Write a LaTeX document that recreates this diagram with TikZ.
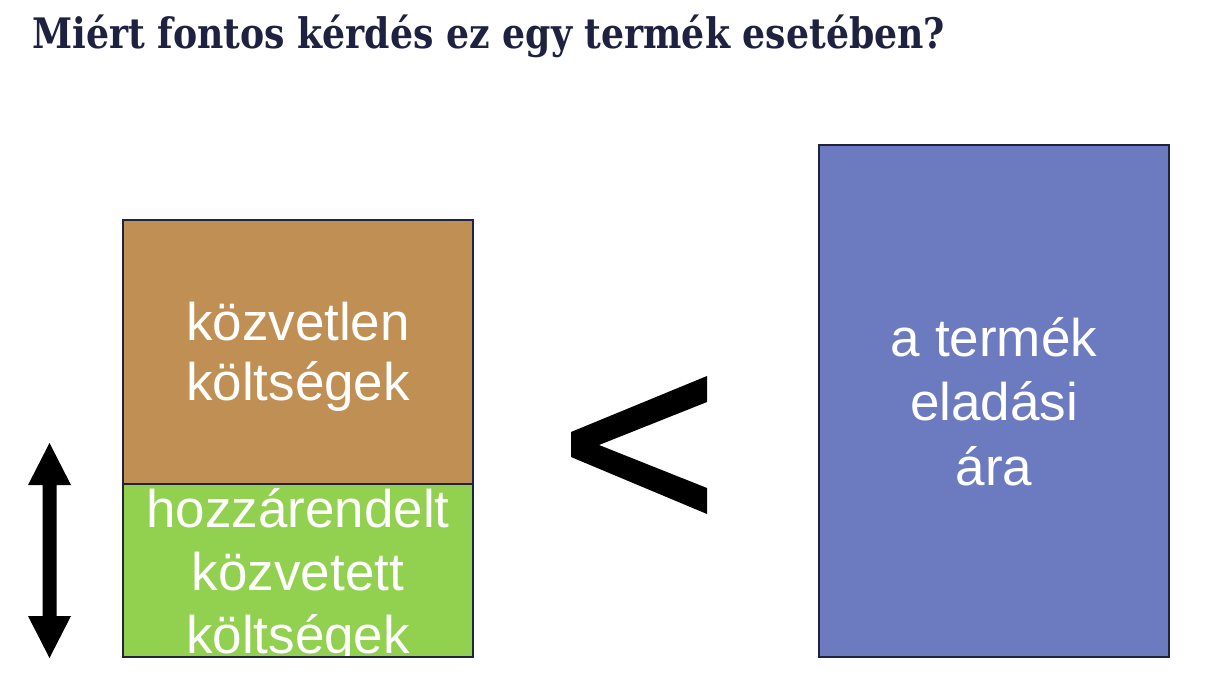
\documentclass[tikz,border=0pt]{standalone}
\usepackage{fontspec}
\setmainfont{Liberation Sans}
\newfontfamily\titlefont{DejaVu Serif}
\definecolor{titlecol}{HTML}{1E2140}
\definecolor{edgecol}{HTML}{1F2340}
\definecolor{browncol}{HTML}{C08F53}
\definecolor{greencol}{HTML}{92D050}
\definecolor{bluecol}{HTML}{6C7BBF}
\tikzset{
  costbox/.style={draw=edgecol, line width=1.2pt},
  boxtext/.style={text=white, inner sep=0pt, anchor=base, font=\fontsize{53}{62}\selectfont}
}
\begin{document}
\begin{tikzpicture}[x=1pt,y=-1pt]
\useasboundingbox (0,0) rectangle (1225,688);
\fill[white] (0,0) rectangle (1225,688);
% title
\node[anchor=base west, inner sep=0pt, text=titlecol] (title) at (32,48)
  {\resizebox{913pt}{\height}{\titlefont\bfseries\fontsize{42}{50}\selectfont Miért fontos kérdés ez egy termék esetében?}};
% boxes
\fill[browncol] (123,220) rectangle (473,484);
\fill[greencol] (123,484) rectangle (473,657);
\fill[bluecol] (819,145) rectangle (1169,657);
% brown text
\node[boxtext] (b1) at (298,340) {közvetlen};
\node[boxtext] (b2) at (298,400) {költségek};
% green text (clipped)
\begin{scope}
\clip (123,484) rectangle (473,657);
\node[boxtext] (g1) at (298,527) {hozzárendelt};
\node[boxtext] (g2) at (298,590) {közvetett};
\node[boxtext] (g3) at (298,653) {költségek};
\end{scope}
% blue text
\node[boxtext] (p1) at (994,356) {a termék};
\node[boxtext] (p2) at (994,420) {eladási};
\node[boxtext] (p3) at (994,485) {ára};
% borders
\draw[costbox] (123,220) rectangle (473,484);
\draw[costbox] (123,484) rectangle (473,657);
\draw[costbox] (819,145) rectangle (1169,657);
% less-than sign
\fill[black] (707,376) -- (571,432) -- (571,457) -- (707,514) -- (707,488) -- (599,445) -- (707,402) -- cycle;
% double arrow
\fill[black] (49.5,443) -- (71,485) -- (56.5,485) -- (56.5,616) -- (71,616) -- (49.5,658) -- (28,616) -- (42.5,616) -- (42.5,485) -- (28,485) -- cycle;
\end{tikzpicture}
\end{document}
